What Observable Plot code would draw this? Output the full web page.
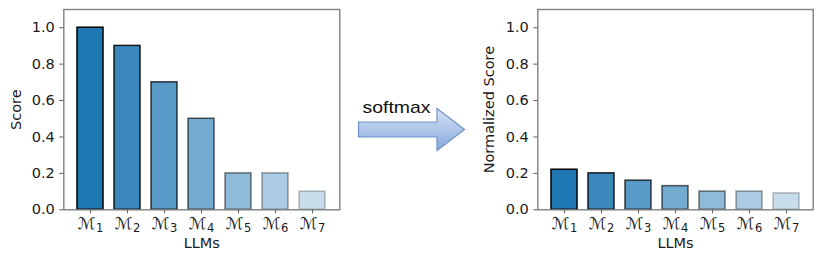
<!DOCTYPE html>
<html>
<head>
<meta charset="utf-8">
<script src="https://cdn.jsdelivr.net/npm/d3@7"></script>
<script src="https://cdn.jsdelivr.net/npm/@observablehq/plot@0.6"></script>
<style>
  html, body { margin: 0; padding: 0; background: #fff; }
  #wrap { position: relative; width: 822px; height: 264px; overflow: hidden; }
  .panel { position: absolute; top: 0; }
  .panel svg { overflow: visible; }
  #arrow { position: absolute; left: 0; top: 0; }
</style>
</head>
<body>
<div id="wrap">
  <div id="left" class="panel" style="left:0px"></div>
  <svg id="arrow" width="822" height="264">
    <defs>
      <linearGradient id="ag" x1="0" y1="0" x2="0" y2="1">
        <stop offset="0" stop-color="#d6e3f5"/>
        <stop offset="1" stop-color="#86a9de"/>
      </linearGradient>
    </defs>
    <path d="M358.5,122 L437,122 L437,108.5 L464.5,129.5 L437,150.5 L437,137 L358.5,137 Z"
          fill="url(#ag)" stroke="#7193c6" stroke-width="1.2" stroke-linejoin="miter"/>
    <text x="362.5" y="113" font-family="Liberation Sans, Arial, sans-serif" font-size="17" textLength="68" lengthAdjust="spacingAndGlyphs" fill="#111">softmax</text>
  </svg>
  <div id="right" class="panel" style="left:470px"></div>
</div>
<script>
// ---- data ----
const models = ["ℳ1", "ℳ2", "ℳ3", "ℳ4", "ℳ5", "ℳ6", "ℳ7"];
const scores = [1.0, 0.9, 0.7, 0.5, 0.2, 0.2, 0.1];
const normalizedScores = [0.22, 0.20, 0.16, 0.13, 0.10, 0.10, 0.09];
const yTicks = [0, 0.2, 0.4, 0.6, 0.8, 1.0];
const xLabel = "LLMs";
const leftYLabel = "Score";
const rightYLabel = "Normalized Score";

function panel(values, yLabel, width, marginLeft, marginRight, labelDx) {
  const rows = models.map((m, i) => ({m, v: values[i], i}));
  const svg = Plot.plot({
    width, height: 264,
    marginLeft, marginRight, marginTop: 9, marginBottom: 54.7,
    style: {fontFamily: "DejaVu Sans", fontSize: "14.5px", color: "#1a1a1a", background: "transparent", overflow: "visible"},
    x: {type: "band", domain: models, paddingInner: 0.3, paddingOuter: 0.35},
    y: {domain: [0, 1.1]},
    opacity: {type: "linear", domain: [0, 6], range: [1, 0.25]},
    marks: [
      Plot.barY(rows, {x: "m", y: "v", fill: "#1f77b4", fillOpacity: "i",
        stroke: "#000", strokeOpacity: "i", strokeWidth: 1.5}),
      Plot.frame({stroke: "#808080", strokeWidth: 1.4}),
      Plot.axisY({ticks: yTicks, tickFormat: ".1f", tickSize: 4, tickPadding: 5,
        stroke: "#606060", fill: "#1a1a1a", label: null, fontSize: 14.5}),
      Plot.axisX({tickSize: 4, tickPadding: 3, lineAnchor: "top", stroke: "#606060", fill: "#1a1a1a", label: null, fontSize: 16.5}),
      Plot.text([xLabel], {frameAnchor: "bottom", dy: 38, fill: "#1a1a1a", fontSize: 14.5}),
      Plot.text([yLabel], {frameAnchor: "left", textAnchor: "middle", dx: labelDx, rotate: -90, fill: "#1a1a1a", fontSize: 14.5})
    ]
  });
  // typeset the model tick labels as M with a subscript index
  svg.querySelectorAll('g[aria-label="x-axis tick label"] text').forEach(t => {
    const s = t.textContent;
    const base = s.slice(0, 1), sub = s.slice(1);
    t.textContent = "";
    const ns = "http://www.w3.org/2000/svg";
    const a = document.createElementNS(ns, "tspan");
    a.textContent = base;
    const b = document.createElementNS(ns, "tspan");
    b.textContent = sub;
    b.setAttribute("font-size", "11.5");
    b.setAttribute("dy", "3");
    b.setAttribute("dx", "0.5");
    t.append(a, b);
  });
  return svg;
}

document.getElementById("left").append(panel(scores, leftYLabel, 350, 63.3, 10.7, -47));
document.getElementById("right").append(panel(normalizedScores, rightYLabel, 352, 67.3, 9.3, -48.5));
</script>
</body>
</html>
